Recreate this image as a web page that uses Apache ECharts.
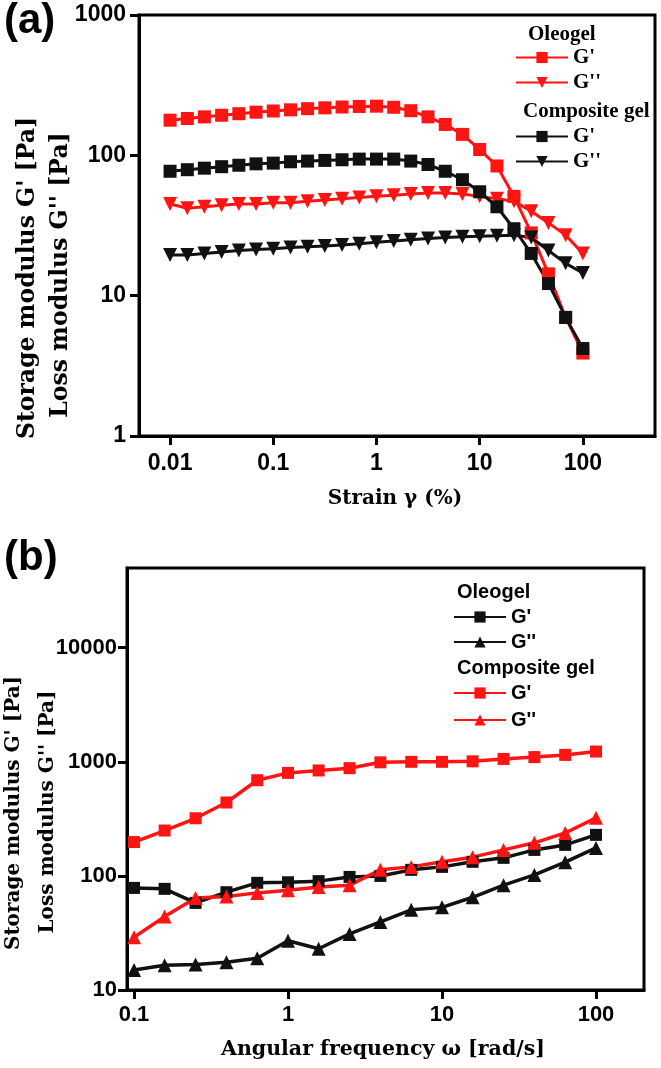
<!DOCTYPE html>
<html>
<head>
<meta charset="utf-8">
<script src="https://cdn.jsdelivr.net/npm/echarts@6/dist/echarts.min.js"></script>
<style>
html,body{margin:0;padding:0;background:#fff;}
#c{width:661px;height:1068px;}
</style>
</head>
<body>
<div id="c"></div>
<script>
// ---------- Panel (a): strain sweep ----------
const strainA = [0.01,0.0147,0.0215,0.0316,0.0464,0.0681,0.1,0.147,0.215,0.316,0.464,0.681,1,1.47,2.15,3.16,4.64,6.81,10,14.7,21.5,31.6,46.4,68.1,100];
const oleoGpA  = [178,183,188,193,198,203,207,211,215,218,221,223,224,220,208,188,166,141,110,84,51,28,14.3,7.0,3.9];
const oleoGppA = [45,42,43,44,45,45,46,46,47,48,49,50,51,52,53,54,54,53,51,49,47,40,33,27,20];
const compGpA  = [77,79,81,83,85,87,88,90,91,92,93,94,94,94,91,86,77,67,55,43,30,20,12.2,7.0,4.2];
const compGppA = [19.5,19.5,20,20.5,21,21.3,21.6,22,22.3,22.6,23,23.4,24,24.5,25,25.5,26,26.3,26.5,26.7,27,26,21,17,14.5];
const xTicksA = [0.01,0.1,1,10,100];
const yTicksA = [1,10,100,1000];

// ---------- Panel (b): frequency sweep ----------
const freqB = [0.1,0.158,0.251,0.398,0.631,1,1.58,2.51,3.98,6.31,10,15.8,25.1,39.8,63.1,100];
const oleoGpB  = [78.5,77,58,72,87,88,90,98,100,113,120,133,144,169,187,229];
const oleoGppB = [15,16.5,16.7,17.5,19,27,23,31,39.5,50.4,53,65,83,102,132,176];
const compGpB  = [198,250,320,440,690,800,840,880,990,1000,1000,1010,1060,1100,1150,1230];
const compGppB = [29,44,64,66,71,75,80,83,113,120,133,146,169,195,238,323];
const xTicksB = [0.1,1,10,100];
const yTicksB = [10,100,1000,10000];

const RED = '#ff1414';
const BLK = '#111111';
const SANS = '"Liberation Sans", Arial, sans-serif';
const LSERIF = '"Liberation Serif", serif';

function pairs(xs, ys){ return xs.map((x,i)=>[x, ys[i]]); }
const fmt = v => String(+(+v).toPrecision(6));

function logAxis(grid, min, max, ticks, fontSize, margin){
  return {
    type:'log', gridIndex:grid, min:min, max:max, logBase:10,
    axisLine:{show:true, onZero:false, lineStyle:{color:'#000', width:3}},
    axisTick:{show:true, inside:false, length:9, lineStyle:{color:'#000', width:3}, customValues:ticks},
    axisLabel:{show:true, customValues:ticks, formatter:fmt, color:'#000',
      fontFamily:SANS, fontWeight:'bold', fontSize:fontSize, margin:margin},
    minorTick:{show:false}, splitLine:{show:false}, minorSplitLine:{show:false}
  };
}

function series(name, xi, yi, xs, ys, color, symbol, size, rot, lw){
  return {
    name:name, type:'line', xAxisIndex:xi, yAxisIndex:yi,
    data:pairs(xs, ys), symbol:symbol, symbolSize:size, symbolRotate:rot,
    showSymbol:true, showAllSymbol:true,
    lineStyle:{color:color, width:lw}, itemStyle:{color:color, borderWidth:0},
    emphasis:{disabled:true}, z:3
  };
}

const legendText = (fam, size) => ({color:'#000', fontFamily:fam, fontWeight:'bold', fontSize:size, lineHeight:size});
const legendFmt = n => n.replace(/^.* /, '');

const option = {
  animation:false,
  backgroundColor:'#fff',
  grid:[
    {left:139, right:6, top:15, bottom:632, show:true, borderColor:'#000', borderWidth:3, containLabel:false},
    {left:127, right:17, top:568, bottom:78, show:true, borderColor:'#000', borderWidth:3, containLabel:false}
  ],
  xAxis:[ logAxis(0, 0.005, 500, xTicksA, 23, 16), logAxis(1, 0.09, 205, xTicksB, 22, 14) ],
  yAxis:[ logAxis(0, 1, 1000, yTicksA, 23, 13), logAxis(1, 10, 50000, yTicksB, 22, 10) ],
  title:[
    {text:'Oleogel', left:528, top:24, textStyle:{fontFamily:LSERIF, fontWeight:'bold', fontSize:21, color:'#000'}, padding:0},
    {text:'Composite gel', left:523, top:101, textStyle:{fontFamily:LSERIF, fontWeight:'bold', fontSize:21, color:'#000'}, padding:0},
    {text:'Oleogel', left:457, top:582, textStyle:{fontFamily:SANS, fontWeight:'bold', fontSize:20, color:'#000'}, padding:0},
    {text:'Composite gel', left:457, top:658, textStyle:{fontFamily:SANS, fontWeight:'bold', fontSize:20, color:'#000'}, padding:0}
  ],
  legend:[
    {data:["Oleogel G'", "Oleogel G''"], orient:'vertical', left:515, top:47, itemWidth:52, itemHeight:14, itemGap:4,
     formatter:legendFmt, textStyle:legendText(LSERIF, 21), padding:0, selectedMode:false},
    {data:["Composite gel G'", "Composite gel G''"], orient:'vertical', left:515, top:126, itemWidth:52, itemHeight:14, itemGap:4,
     formatter:legendFmt, textStyle:legendText(LSERIF, 21), padding:0, selectedMode:false},
    {data:["Oleogel (b) G'", "Oleogel (b) G''"], orient:'vertical', left:453, top:607, itemWidth:52, itemHeight:14, itemGap:5,
     formatter:legendFmt, textStyle:legendText(SANS, 20), padding:0, selectedMode:false},
    {data:["Composite gel (b) G'", "Composite gel (b) G''"], orient:'vertical', left:453, top:683, itemWidth:52, itemHeight:14, itemGap:7,
     formatter:legendFmt, textStyle:legendText(SANS, 20), padding:0, selectedMode:false}
  ],
  graphic:[
    {type:'text', left:4, top:0, style:{text:'(a)', fontFamily:SANS, fontWeight:'bold', fontSize:42, fill:'#000'}},
    {type:'text', left:4, top:537, style:{text:'(b)', fontFamily:SANS, fontWeight:'bold', fontSize:42, fill:'#000'}},
    {type:'text', x:28, y:278, rotation:Math.PI/2, style:{text:"Storage modulus G' [Pa]", font:'bold 23.5px "DejaVu Serif"', fill:'#000', align:'center', verticalAlign:'middle'}},
    {type:'text', x:61, y:275, rotation:Math.PI/2, style:{text:"Loss modulus G'' [Pa]", font:'bold 23.5px "DejaVu Serif"', fill:'#000', align:'center', verticalAlign:'middle'}},
    {type:'text', x:395, y:499, style:{text:'Strain γ (%)', font:'bold 20px "DejaVu Serif"', fill:'#000', align:'center', verticalAlign:'middle'}},
    {type:'text', x:14, y:813, rotation:Math.PI/2, style:{text:"Storage modulus G' [Pa]", font:'bold 20px "DejaVu Serif"', fill:'#000', align:'center', verticalAlign:'middle'}},
    {type:'text', x:48, y:812, rotation:Math.PI/2, style:{text:"Loss modulus G'' [Pa]", font:'bold 20px "DejaVu Serif"', fill:'#000', align:'center', verticalAlign:'middle'}},
    {type:'text', x:383, y:1050, style:{text:'Angular frequency ω [rad/s]', font:'bold 20.5px "DejaVu Serif"', fill:'#000', align:'center', verticalAlign:'middle'}}
  ],
  series:[
    series("Oleogel G'", 0, 0, strainA, oleoGpA, RED, 'rect', 13, 0, 3),
    series("Oleogel G''", 0, 0, strainA, oleoGppA, RED, 'triangle', 14, 180, 3),
    series("Composite gel G'", 0, 0, strainA, compGpA, BLK, 'rect', 13, 0, 3),
    series("Composite gel G''", 0, 0, strainA, compGppA, BLK, 'triangle', 14, 180, 3),
    series("Oleogel (b) G'", 1, 1, freqB, oleoGpB, BLK, 'rect', 12, 0, 3.5),
    series("Oleogel (b) G''", 1, 1, freqB, oleoGppB, BLK, 'triangle', 14, 0, 3.5),
    series("Composite gel (b) G'", 1, 1, freqB, compGpB, RED, 'rect', 12, 0, 3.5),
    series("Composite gel (b) G''", 1, 1, freqB, compGppB, RED, 'triangle', 14, 0, 3.5)
  ]
};

const chart = echarts.init(document.getElementById('c'), null, {renderer:'canvas'});
chart.setOption(option);
</script>
</body>
</html>
